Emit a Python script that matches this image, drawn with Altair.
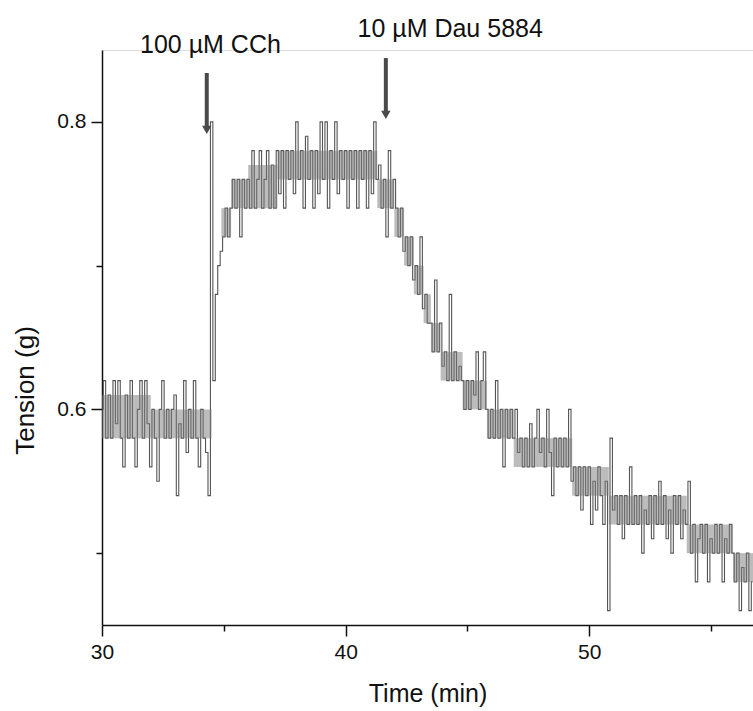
import altair as alt
import pandas as pd

# ---- data ----
t_start = 30.0
t_step = 0.1
# tension in hundredths of a gram, one value every 0.1 min from 30.0 min
tension_cg = [
    60, 62, 58, 61, 58, 62, 59, 62, 58, 56,
    61, 58, 62, 58, 56, 60, 62, 58, 62, 59,
    56, 60, 58, 55, 60, 62, 58, 60, 58, 60,
    61, 54, 59, 58, 62, 57, 60, 58, 62, 58,
    56, 60, 58, 57, 54,
    80, 62, 68, 70, 71, 72, 74, 72, 74, 76, 74, 76, 72, 76,
    74, 76, 74, 78, 74, 76, 78, 74, 76, 78, 74,
    77, 74, 78, 75, 78, 74, 78, 76, 78, 75,
    80, 76, 78, 74, 79, 76, 78, 74, 78, 75,
    80, 76, 80, 74, 78, 76, 80, 75, 78, 76,
    78, 74, 78, 76, 78, 74, 78, 76, 78, 74,
    78, 75, 80, 76, 77, 74, 76, 72, 78, 74,
    76, 74, 72, 74, 71, 72, 70, 72, 69, 70,
    68, 72, 67, 68, 66, 66, 64, 69, 64, 66,
    63, 64, 62, 68, 62, 64, 62, 63, 62, 60,
    62, 60, 62, 61, 64, 60, 62, 64, 60, 58,
    60, 58, 62, 58, 60, 56, 60, 58, 60, 58,
    60, 57, 58, 56, 58, 56, 59, 56, 58, 60,
    57, 58, 56, 60, 57, 54, 58, 56, 58, 56,
    58, 56, 60, 55, 56, 54, 56, 53, 56, 54,
    56, 52, 55, 53, 56, 54, 52, 55, 46, 58,
    53, 54, 52, 54, 51, 54, 52, 56, 52, 54,
    52, 54, 50, 53, 52, 54, 51, 54, 52, 55,
    52, 54, 51, 53, 50, 54, 52, 54, 51, 53,
    52, 55, 50, 52, 48, 51, 52, 50, 52, 48,
    51, 50, 52, 50, 52, 48, 51, 50, 52, 50,
    48, 50, 46, 49, 48, 50, 46, 48,
]

# dense core of the trace, as stepped blocks
band_t0 = [30.0, 32.0, 34.9, 35.3, 36.0, 37.2, 41.3, 42.0, 42.4, 42.8, 43.2, 43.5, 43.9, 44.8, 45.8, 46.9, 49.3, 50.8, 54.0, 55.9]
band_t1 = [32.0, 34.5, 35.3, 36.0, 37.2, 41.3, 42.0, 42.4, 42.8, 43.2, 43.5, 43.9, 44.8, 45.8, 46.9, 49.3, 50.8, 54.0, 55.9, 56.72]
band_lo = [0.58, 0.58, 0.72, 0.74, 0.74, 0.76, 0.74, 0.72, 0.70, 0.68, 0.66, 0.64, 0.62, 0.60, 0.58, 0.56, 0.54, 0.52, 0.50, 0.48]
band_hi = [0.61, 0.60, 0.74, 0.76, 0.77, 0.78, 0.76, 0.74, 0.72, 0.70, 0.68, 0.66, 0.64, 0.62, 0.60, 0.58, 0.56, 0.54, 0.52, 0.50]

arrow_x = [34.30, 41.65]
arrow_top = [0.834, 0.8444]
arrow_shaft_end = [0.797, 0.807]
arrow_head = [0.7945, 0.8048]

label_text = ["100 µM CCh", "10 µM Dau 5884"]
label_x = [34.45, 44.29]
label_y = [0.848, 0.859]

x_ticks = [30, 35, 40, 45, 50, 55]
y_ticks = [0.5, 0.6, 0.7, 0.8]

# ---- tables ----
trace = pd.DataFrame({
    "time": [round(t_start + t_step * i, 2) for i in range(len(tension_cg))],
    "tension": [v / 100 for v in tension_cg],
})
band = pd.DataFrame({"t0": band_t0, "t1": band_t1, "lo": band_lo, "hi": band_hi})
arrows = pd.DataFrame({"x": arrow_x, "top": arrow_top, "end": arrow_shaft_end, "head": arrow_head})
labels = pd.DataFrame({"x": label_x, "y": label_y, "text": label_text})

FONT = "Liberation Sans"

xscale = alt.Scale(domain=[30, 56.72], nice=False, zero=False)
yscale = alt.Scale(domain=[0.45, 0.85], nice=False, zero=False)

x_axis = alt.Axis(
    title="Time (min)", values=x_ticks, grid=False,
    labelExpr="datum.value % 10 === 0 ? datum.label : ''",
    tickSize={"condition": {"test": "datum.value % 10 === 0", "value": 11}, "value": 6},
    labelPadding=5, labelFontSize=21, labelFont=FONT, labelColor="#111",
    titleFontSize=25, titleFont=FONT, titleFontWeight="normal", titleColor="#111",
    titleBaseline="alphabetic", titleY=76,
    domainColor="#111", domainWidth=1.5, tickColor="#111", tickWidth=1.5,
    labelFlush=False,
)
y_axis = alt.Axis(
    title="Tension (g)", values=y_ticks, grid=False,
    labelExpr="round(datum.value*10) % 2 === 0 ? format(datum.value, '.1f') : ''",
    tickSize={"condition": {"test": "round(datum.value*10) % 2 === 0", "value": 11}, "value": 6},
    labelPadding=5, labelFontSize=21, labelFont=FONT, labelColor="#111",
    titleFontSize=26, titleFont=FONT, titleFontWeight="normal", titleColor="#111",
    titleAngle=270, titleBaseline="middle", titleX=-77, titleY=340,
    domainColor="#111", domainWidth=1.5, tickColor="#111", tickWidth=1.5,
    labelFlush=False,
)

base_line = alt.Chart(trace).mark_line(
    interpolate="step", color="#2b2b2b", strokeWidth=1.1, opacity=0.8, clip=True
).encode(
    x=alt.X("time:Q", scale=xscale, axis=x_axis),
    y=alt.Y("tension:Q", scale=yscale, axis=y_axis),
)

blocks = alt.Chart(band).mark_rect(color="#7a7a7a", opacity=0.5, clip=True).encode(
    x=alt.X("t0:Q", scale=xscale),
    x2="t1:Q",
    y=alt.Y("lo:Q", scale=yscale),
    y2="hi:Q",
)

shafts = alt.Chart(arrows).mark_rule(color="#4a4a4a", strokeWidth=4).encode(
    x=alt.X("x:Q", scale=xscale),
    y=alt.Y("top:Q", scale=yscale),
    y2="end:Q",
)
heads = alt.Chart(arrows).mark_point(
    shape="triangle-down", filled=True, color="#4a4a4a", size=90, opacity=1
).encode(
    x=alt.X("x:Q", scale=xscale),
    y=alt.Y("head:Q", scale=yscale),
)
texts = alt.Chart(labels).mark_text(
    font=FONT, fontSize=25, color="#111", align="center", baseline="alphabetic"
).encode(
    x=alt.X("x:Q", scale=xscale),
    y=alt.Y("y:Q", scale=yscale),
    text="text:N",
)

chart = alt.layer(base_line, blocks, shafts, heads, texts).properties(
    width=651, height=575,
    autosize=alt.AutoSizeParams(type="none"),
    padding={"left": 102, "top": 50, "right": 0, "bottom": 86},
).configure_view(stroke=None).configure(background="white")

chart.save("out.html", embed_options={"renderer": "svg", "actions": False})
